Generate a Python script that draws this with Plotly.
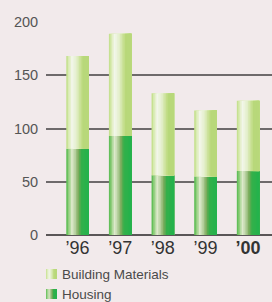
import plotly.graph_objects as go

# ---- data ----
years = ["’96", "’97", "’98", "’99", "’00"]
housing = [81, 93, 56, 55, 60]
building_materials = [87, 96, 77, 62, 66]
series_names = ["Building Materials", "Housing"]
y_ticks = [0, 50, 100, 150, 200]

# ---- style ----
W, H = 272, 302
ML, MR, MT, MB = 46, 0, 22, 67
BG = "#f2eaeb"
FONT = "'Liberation Sans Narrow', 'Liberation Sans', sans-serif"
BAR_W = 0.53
N = 14

housing_stops = [(0.0, "#4cb848"), (0.1, "#8ccc78"), (0.25, "#dde9cb"),
                 (0.4, "#b4cf9c"), (0.55, "#76a856"), (0.66, "#34b04a"),
                 (1.0, "#22b24c")]
bm_stops = [(0.0, "#bcdc80"), (0.1, "#d8eab0"), (0.25, "#f2f6ea"),
            (0.45, "#e4efcc"), (0.65, "#c6df8e"), (0.75, "#b8d87a"),
            (1.0, "#b8d87a")]


def hex2rgb(h):
    h = h.lstrip("#")
    return tuple(int(h[i:i + 2], 16) for i in (0, 2, 4))


def grad(stops, t):
    for (t0, c0), (t1, c1) in zip(stops[:-1], stops[1:]):
        if t0 <= t <= t1:
            f = 0 if t1 == t0 else (t - t0) / (t1 - t0)
            a, b = hex2rgb(c0), hex2rgb(c1)
            return "rgb(%d,%d,%d)" % tuple(round(a[k] + (b[k] - a[k]) * f) for k in range(3))
    return stops[-1][1]


fig = go.Figure()

for vals, base, stops in [(housing, [0] * len(housing), housing_stops),
                          (building_materials, housing, bm_stops)]:
    for i in range(N):
        fig.add_trace(go.Bar(
            x=years, y=vals, base=base,
            offset=-BAR_W / 2 + i * BAR_W / N,
            width=BAR_W - i * BAR_W / N,
            marker=dict(color=grad(stops, (i + 0.5) / N), line=dict(width=0)),
            showlegend=False, hoverinfo="skip"))

# ---- custom legend with gradient swatches ----
pw, ph = W - ML - MR, H - MT - MB


def px_x(p):
    return (p - ML) / pw


def px_y(p):
    return (H - MB - p) / ph


shapes = []
annotations = []
legend_rows = [(series_names[0], bm_stops, 269, 279),
               (series_names[1], housing_stops, 289, 299)]
for name, stops, y0, y1 in legend_rows:
    sx0, sx1 = 46, 57
    M = 8
    for i in range(M):
        shapes.append(dict(type="rect", xref="paper", yref="paper",
                           x0=px_x(sx0 + i * (sx1 - sx0) / M), x1=px_x(sx1),
                           y0=px_y(y1), y1=px_y(y0),
                           fillcolor=grad(stops, (i + 0.5) / M), line=dict(width=0)))
    annotations.append(dict(xref="paper", yref="paper", x=px_x(60), y=px_y((y0 + y1) / 2 + 0.5),
                            xanchor="left", yanchor="middle", text=name, showarrow=False,
                            font=dict(size=13.5, color="#4a4a4a", family=FONT)))

ticktext = [t if i < len(years) - 1 else "<b>%s</b>" % t for i, t in enumerate(years)]

fig.update_layout(
    width=W, height=H,
    margin=dict(l=ML, r=MR, t=MT, b=MB),
    paper_bgcolor=BG, plot_bgcolor=BG,
    barmode="overlay",
    showlegend=False,
    shapes=shapes, annotations=annotations,
    font=dict(family=FONT),
    xaxis=dict(type="category", range=[-0.74, 4.56], tickmode="array",
               tickvals=years, ticktext=ticktext, showgrid=False, zeroline=False,
               ticks="", ticklen=0,
               tickfont=dict(size=18, color="#333333", family=FONT), fixedrange=True),
    yaxis=dict(range=[0, 200], tickvals=y_ticks, showgrid=True, gridcolor="#6e6a6b",
               gridwidth=1.5, zeroline=True, zerolinecolor="#5a5657", zerolinewidth=1.5,
               ticks="outside", ticklen=4, tickcolor=BG,
               tickfont=dict(size=14.5, color="#555555", family=FONT), fixedrange=True),
)

fig.write_html("out.html", config={"displayModeBar": False},
               post_script="document.body.style.margin='0';document.body.style.overflow='hidden';")
